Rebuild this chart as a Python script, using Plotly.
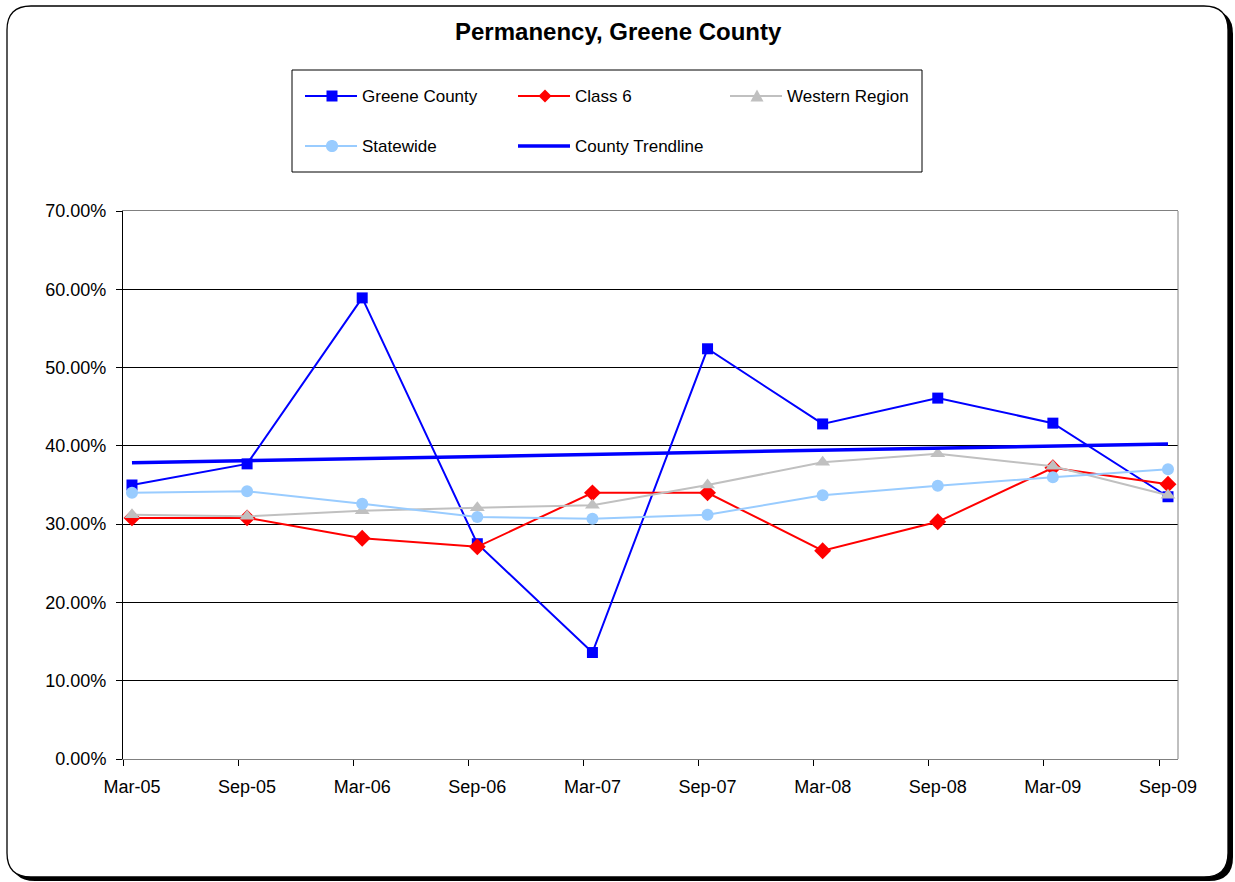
import numpy as np
import plotly.graph_objects as go

# ---- data (percent) ----
periods = ["Mar-05", "Sep-05", "Mar-06", "Sep-06", "Mar-07",
           "Sep-07", "Mar-08", "Sep-08", "Mar-09", "Sep-09"]
greene_county = [35.0, 37.7, 58.9, 27.5, 13.6, 52.4, 42.8, 46.1, 42.9, 33.5]
class_6 = [30.8, 30.8, 28.2, 27.1, 34.0, 34.0, 26.6, 30.3, 37.2, 35.1]
western_region = [31.2, 31.0, 31.7, 32.1, 32.4, 35.0, 37.9, 39.0, 37.4, 33.7]
statewide = [34.0, 34.2, 32.6, 30.9, 30.7, 31.2, 33.7, 34.9, 36.0, 37.0]
y_ticks = [0, 10, 20, 30, 40, 50, 60, 70]
y_tick_labels = ["0.00%", "10.00%", "20.00%", "30.00%", "40.00%",
                 "50.00%", "60.00%", "70.00%"]

idx = np.arange(len(periods))
# linear trendline fitted to the county series
slope, intercept = np.polyfit(idx, greene_county, 1)
county_trend = intercept + slope * idx

# ---- page geometry (pixels) ----
W, H = 1235, 882
L, R, T, B = 123, 1178, 211, 759
PW, PH = R - L, B - T


def px(x):
    return (x - L) / PW


def py(y):
    return (B - y) / PH


FONT = "Arial, Liberation Sans, sans-serif"
BLUE = "#0000FF"
RED = "#FF0000"
GRAY = "#C0C0C0"
LIGHT = "#99CCFF"

fig = go.Figure()

fig.add_trace(go.Scatter(
    x=idx, y=greene_county, mode="lines+markers", name="Greene County",
    line=dict(color=BLUE, width=2),
    marker=dict(symbol="square", size=11, color=BLUE)))
fig.add_trace(go.Scatter(
    x=idx, y=class_6, mode="lines+markers", name="Class 6",
    line=dict(color=RED, width=2),
    marker=dict(symbol="diamond", size=13, color=RED)))
fig.add_trace(go.Scatter(
    x=idx, y=western_region, mode="lines+markers", name="Western Region",
    line=dict(color=GRAY, width=2),
    marker=dict(symbol="triangle-up", size=13, color=GRAY)))
fig.add_trace(go.Scatter(
    x=idx, y=statewide, mode="lines+markers", name="Statewide",
    line=dict(color=LIGHT, width=2),
    marker=dict(symbol="circle", size=12, color=LIGHT)))
fig.add_trace(go.Scatter(
    x=idx, y=county_trend, mode="lines", name="County Trendline",
    line=dict(color=BLUE, width=3.5)))
# carrier for the tick-mark axis
fig.add_trace(go.Scatter(x=[0], y=[0], xaxis="x2", mode="markers",
                         marker=dict(opacity=0), hoverinfo="skip",
                         showlegend=False))

xr = [-0.078, 9.087]
fig.update_layout(
    width=W, height=H,
    margin=dict(l=L, r=W - R, t=T, b=H - B, autoexpand=False),
    paper_bgcolor="white", plot_bgcolor="rgba(0,0,0,0)",
    showlegend=False,
    font=dict(family=FONT, color="black"),
    xaxis=dict(range=xr, tickvals=list(idx), ticktext=periods,
               ticks="", showgrid=False, zeroline=False,
               showline=True, linecolor="#808080", linewidth=1, mirror=True,
               tickfont=dict(size=18, family=FONT), ticklabelstandoff=11),
    xaxis2=dict(range=xr, overlaying="x", tickvals=list(idx - 0.078),
                ticks="outside", ticklen=6, tickcolor="black",
                showticklabels=False, showgrid=False, zeroline=False,
                showline=False),
    yaxis=dict(range=[0, 70], tickvals=y_ticks, ticktext=y_tick_labels,
               ticks="outside", ticklen=6, tickcolor="black",
               showgrid=True, gridcolor="#000000", gridwidth=1,
               zeroline=False, showline=True, linecolor="black", linewidth=1,
               tickfont=dict(size=18, family=FONT), ticklabelstandoff=6),
)

shapes = []


def rounded(x0, y0, x1, y1, r):
    # rounded rectangle path in paper coordinates, built from pixel corners
    rx, ry = r / PW, r / PH
    a, b, c, d = px(x0), py(y0), px(x1), py(y1)
    return (f"M{a + rx},{b} L{c - rx},{b} Q{c},{b} {c},{b - ry} "
            f"L{c},{d + ry} Q{c},{d} {c - rx},{d} L{a + rx},{d} "
            f"Q{a},{d} {a},{d + ry} L{a},{b - ry} Q{a},{b} {a + rx},{b} Z")


# chart frame with drop shadow
shapes.append(dict(type="path", xref="paper", yref="paper", layer="below",
                   path=rounded(11, 10, 1233, 881, 24),
                   fillcolor="black", line=dict(width=0)))
shapes.append(dict(type="path", xref="paper", yref="paper", layer="below",
                   path=rounded(7, 6, 1228, 877, 24),
                   fillcolor="white", line=dict(color="black", width=1.3)))
# right edge of the plot area
shapes.append(dict(type="line", xref="paper", yref="paper", layer="above",
                   x0=1, x1=1, y0=0, y1=1,
                   line=dict(color="#808080", width=1)))

# legend box
shapes.append(dict(type="rect", xref="paper", yref="paper",
                   x0=px(292), x1=px(922), y0=py(70), y1=py(172),
                   fillcolor="white", line=dict(color="black", width=1)))

legend_items = [
    ("Greene County", BLUE, 2, "square", 305, 96),
    ("Class 6", RED, 2, "diamond", 518, 96),
    ("Western Region", GRAY, 2, "triangle", 730, 96),
    ("Statewide", LIGHT, 2, "circle", 305, 146),
    ("County Trendline", BLUE, 3.5, None, 518, 146),
]
annotations = []
for label, color, lw, sym, lx, ly in legend_items:
    shapes.append(dict(type="line", xref="paper", yref="paper",
                       x0=px(lx), x1=px(lx + 52), y0=py(ly), y1=py(ly),
                       line=dict(color=color, width=lw)))
    cx, cy = px(lx + 27), py(ly)
    if sym == "square":
        p = "M-5.5,-5.5 L5.5,-5.5 L5.5,5.5 L-5.5,5.5 Z"
    elif sym == "diamond":
        p = "M0,-6.5 L6.5,0 L0,6.5 L-6.5,0 Z"
    elif sym == "triangle":
        p = "M0,6.5 L6.5,-5.5 L-6.5,-5.5 Z"
    elif sym == "circle":
        p = "M-6,0 C-6,-8 6,-8 6,0 C6,8 -6,8 -6,0 Z"
    else:
        p = None
    if p:
        shapes.append(dict(type="path", xref="paper", yref="paper",
                           xsizemode="pixel", ysizemode="pixel",
                           xanchor=cx, yanchor=cy, path=p,
                           fillcolor=color, line=dict(width=0)))
    annotations.append(dict(xref="paper", yref="paper", x=px(lx + 55),
                            y=cy, text=label, showarrow=False,
                            xanchor="left", yanchor="middle",
                            font=dict(size=17, family=FONT, color="black")))

annotations.append(dict(xref="paper", yref="paper", x=px(618), y=py(32),
                        text="<b>Permanency, Greene County</b>",
                        showarrow=False, xanchor="center", yanchor="middle",
                        font=dict(size=24, family=FONT, color="black")))

fig.update_layout(shapes=shapes, annotations=annotations)
fig.write_html("out.html")
